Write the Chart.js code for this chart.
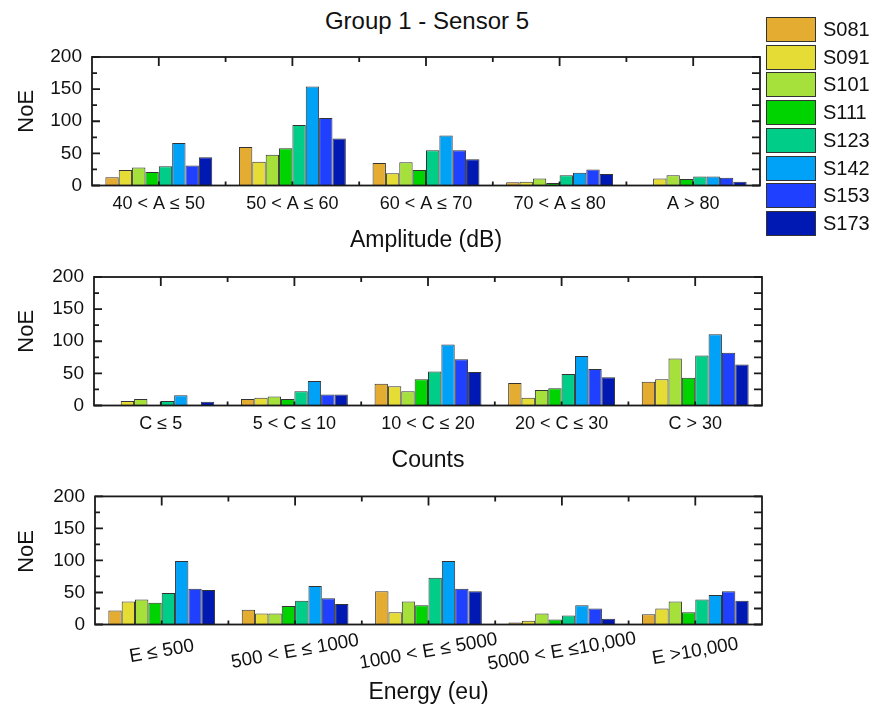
<!DOCTYPE html>
<html>
<head>
<meta charset="utf-8">
<script src="https://cdn.jsdelivr.net/npm/chart.js@4.4.0/dist/chart.umd.min.js"></script>
<style>
    body { margin: 0; background: #fff; font-family: "Liberation Sans", Arial, sans-serif; color: #111; }
    #wrap { position: relative; width: 880px; height: 711px; overflow: hidden; }
    canvas { position: absolute; left: 0; }
    #title { position: absolute; left: 227px; width: 400px; top: 7px; text-align: center; font-size: 24px; }
    .legItem { position: absolute; left: 766px; height: 24px; }
    .legBox { position: absolute; left: 0; top: 0; width: 48px; height: 23px; border: 1px solid #333; }
    .legText { position: absolute; left: 57px; top: 0; font-size: 20px; line-height: 24px; }
</style>
</head>
<body>
<div id="wrap">
    <div id="title">Group 1 - Sensor 5</div>
    <canvas id="ampChart" width="880" height="255" style="top:0px"></canvas>
    <canvas id="countChart" width="880" height="220" style="top:255px"></canvas>
    <canvas id="energyChart" width="880" height="236" style="top:475px"></canvas>
    <div id="legend"></div>
</div>
<script>
// ---------------- Data ----------------
const sensors = ["S081", "S091", "S101", "S111", "S123", "S142", "S153", "S173"];
const sensorColors = ["#E4AC30", "#E6DC36", "#A6E03A", "#00D400", "#00CE88", "#00A2F8", "#1F40FF", "#0019B2"];
const yTicks = [0, 50, 100, 150, 200];

const amplitudeLabels = ["40 < A ≤ 50", "50 < A ≤ 60", "60 < A ≤ 70", "70 < A ≤ 80", "A > 80"];
// one row per sensor, one column per amplitude class
const amplitudeNoE = [
    [13, 60, 35, 5, 0],
    [24, 37, 19, 6, 11],
    [28, 48, 36, 11, 16],
    [21, 58, 24, 4, 10],
    [30, 94, 55, 16, 14],
    [66, 154, 78, 20, 14],
    [31, 105, 55, 25, 12],
    [44, 73, 41, 18, 6],
];

const countLabels = ["C ≤ 5", "5 < C ≤ 10", "10 < C ≤ 20", "20 < C ≤ 30", "C > 30"];
const countNoE = [
    [0, 10, 34, 35, 37],
    [7, 12, 30, 12, 41],
    [10, 14, 22, 24, 73],
    [0, 10, 41, 27, 43],
    [7, 22, 53, 49, 78],
    [16, 38, 95, 77, 111],
    [1, 17, 72, 57, 82],
    [6, 17, 52, 44, 64],
];

const energyLabels = ["E ≤ 500", "500 < E ≤ 1000", "1000 < E ≤ 5000", "5000 < E ≤10,000", "E >10,000"];
const energyNoE = [
    [22, 23, 52, 3, 16],
    [36, 17, 19, 6, 25],
    [39, 17, 36, 17, 36],
    [34, 29, 30, 8, 19],
    [49, 37, 73, 14, 39],
    [99, 60, 99, 30, 46],
    [56, 41, 56, 25, 52],
    [54, 32, 52, 9, 37],
];

Chart.defaults.font.family = '"Liberation Sans", Arial, sans-serif';
Chart.defaults.color = "#111";

// Box frame with inward tick marks on all four sides
const frameTicks = {
    id: "frameTicks",
    afterDatasetsDraw(chart) {
        const { ctx, chartArea: a, scales: { x, y } } = chart;
        ctx.save();
        ctx.strokeStyle = "#1a1a1a";
        ctx.lineWidth = 1.8;
        ctx.strokeRect(a.left, a.top, a.right - a.left, a.bottom - a.top);
        ctx.beginPath();
        for (let v = 0; v <= 200; v += 25) {
            const py = y.getPixelForValue(v);
            const len = v % 50 === 0 ? 8 : 5;
            ctx.moveTo(a.left, py);
            ctx.lineTo(a.left + len, py);
            ctx.moveTo(a.right, py);
            ctx.lineTo(a.right - 8, py);
        }
        const half = (x.getPixelForValue(1) - x.getPixelForValue(0)) / 2;
        chart.data.labels.forEach((lab, i) => {
            const px = x.getPixelForValue(i);
            ctx.moveTo(px, a.top);
            ctx.lineTo(px, a.top + 9);
            ctx.moveTo(px, a.bottom);
            ctx.lineTo(px, a.bottom - 4);
            if (i > 0) {
                ctx.moveTo(px - half, a.top);
                ctx.lineTo(px - half, a.top + 5);
                ctx.moveTo(px - half, a.bottom);
                ctx.lineTo(px - half, a.bottom - 4);
            }
        });
        ctx.stroke();
        ctx.restore();
    },
};

// "NoE" label and optional slanted category labels
const sideText = {
    id: "sideText",
    afterDraw(chart, args, opts) {
        const { ctx, chartArea: a, scales: { x } } = chart;
        ctx.save();
        ctx.fillStyle = "#111";
        ctx.textAlign = "center";
        ctx.textBaseline = "middle";
        ctx.font = '22px "Liberation Sans", Arial, sans-serif';
        ctx.translate(27, (a.top + a.bottom) / 2 + opts.yTitleShift);
        ctx.rotate(-Math.PI / 2);
        ctx.fillText("NoE", 0, 0);
        ctx.restore();

        if (opts.slant) {
            ctx.save();
            ctx.fillStyle = "#111";
            ctx.textAlign = "center";
            ctx.textBaseline = "middle";
            ctx.font = '19px "Liberation Sans", Arial, sans-serif';
            chart.data.labels.forEach((lab, i) => {
                ctx.save();
                ctx.translate(x.getPixelForValue(i), a.bottom + opts.slantOffset);
                ctx.rotate((opts.slant * Math.PI) / 180);
                ctx.fillText(lab, 0, 0);
                ctx.restore();
            });
            ctx.restore();
        }
    },
};

function makePanel(canvasId, labels, values, p) {
    return new Chart(canvasId, {
        type: "bar",
        data: {
            labels: labels,
            datasets: sensors.map((name, s) => ({
                label: name,
                data: values[s],
                backgroundColor: sensorColors[s],
                borderColor: "#333",
                borderWidth: 1,
                categoryPercentage: 0.8,
                barPercentage: 1.0,
            })),
        },
        options: {
            responsive: false,
            animation: false,
            layout: { padding: { top: p.top, right: 880 - p.right, left: 0, bottom: 0 } },
            plugins: {
                legend: { display: false },
                tooltip: { enabled: false },
                sideText: { yTitleShift: p.yTitleShift, slant: p.slant || 0, slantOffset: p.slantOffset || 0 },
            },
            scales: {
                x: {
                    grid: { display: false, drawTicks: false },
                    border: { display: false },
                    ticks: { display: !p.slant, font: { size: 18 }, padding: p.tickPad, maxRotation: 0, autoSkip: false },
                    title: { display: true, text: p.xTitle, font: { size: 23 }, padding: { top: 0, bottom: p.titlePad } },
                    afterFit: (scale) => { scale.height = p.xHeight; },
                },
                y: {
                    min: 0,
                    max: 200,
                    afterBuildTicks: (scale) => { scale.ticks = yTicks.map((v) => ({ value: v })); },
                    grid: { display: false, drawTicks: false },
                    border: { display: false },
                    ticks: { font: { size: 19 }, padding: 10 },
                    afterFit: (scale) => { scale.width = p.left; },
                },
            },
        },
        plugins: [frameTicks, sideText],
    });
}

makePanel("ampChart", amplitudeLabels, amplitudeNoE, {
    top: 57, left: 92, right: 760, xHeight: 69.5, tickPad: 8, titlePad: 1, xTitle: "Amplitude (dB)", yTitleShift: -10,
});
makePanel("countChart", countLabels, countNoE, {
    top: 22, left: 94, right: 762, xHeight: 69.5, tickPad: 8, titlePad: 1, xTitle: "Counts", yTitleShift: -10,
});
makePanel("energyChart", energyLabels, energyNoE, {
    top: 21, left: 95, right: 762, xHeight: 86.5, tickPad: 8, titlePad: 5, xTitle: "Energy (eu)", yTitleShift: -9,
    slant: -10, slantOffset: 27,
});

// Legend on the right
const legend = document.getElementById("legend");
sensors.forEach((name, i) => {
    const item = document.createElement("div");
    item.className = "legItem";
    item.style.top = (17 + i * 27.7) + "px";
    item.innerHTML = `<div class="legBox" style="background:${sensorColors[i]}"></div><div class="legText">${name}</div>`;
    legend.appendChild(item);
});
</script>
</body>
</html>
